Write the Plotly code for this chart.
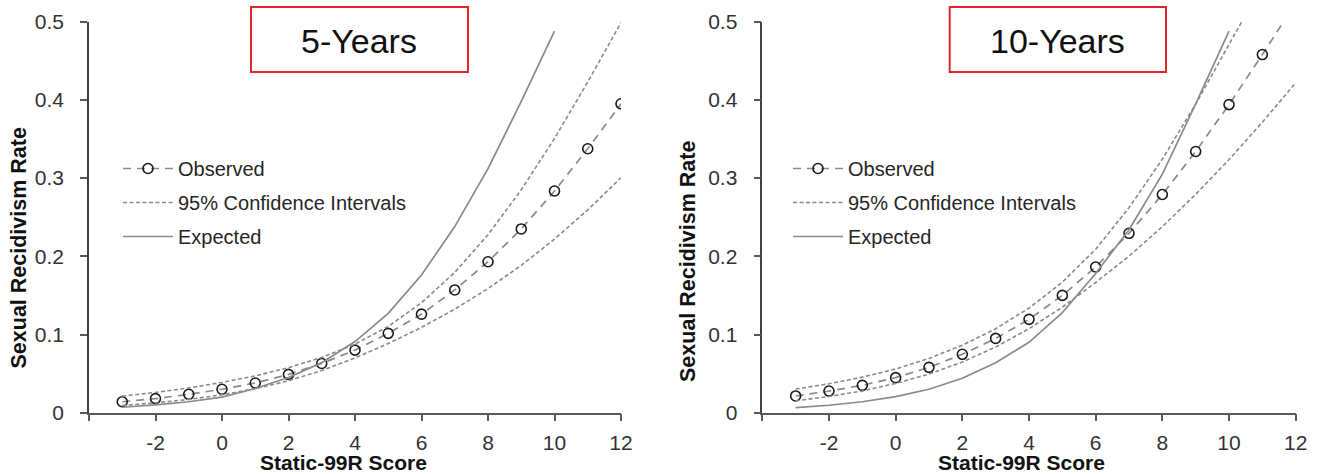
import plotly.graph_objects as go

# ---------------- data ----------------
scores = list(range(-3, 13))
expected_scores = list(range(-3, 11))
x_ticks = [-4, -2, 0, 2, 4, 6, 8, 10, 12]
x_tick_labels = ["", "-2", "0", "2", "4", "6", "8", "10", "12"]
y_ticks = [0, 0.1, 0.2, 0.3, 0.4, 0.5]
y_tick_labels = ["0", "0.1", "0.2", "0.3", "0.4", "0.5"]

panel_titles = ["5-Years", "10-Years"]
series_names = ["Observed", "95% Confidence Intervals", "Expected"]
x_title = "Static-99R Score"
y_title = "Sexual Recidivism Rate"

obs_5 = [0.014, 0.018, 0.0235, 0.030, 0.038, 0.049, 0.063, 0.080, 0.1015, 0.126,
         0.157, 0.193, 0.235, 0.2835, 0.3375, 0.395]
ci_upper_5 = [0.0212, 0.0259, 0.0317, 0.0387, 0.0471, 0.0576, 0.0707, 0.0877, 0.1103,
              0.1406, 0.1794, 0.2276, 0.2850, 0.3507, 0.4229, 0.4988]
ci_lower_5 = [0.0093, 0.0126, 0.0170, 0.0229, 0.0307, 0.0409, 0.0539, 0.0700, 0.0884,
              0.1091, 0.1324, 0.1587, 0.1885, 0.2220, 0.2594, 0.3005]
exp_5 = [0.007, 0.010, 0.014, 0.020, 0.031, 0.045, 0.064, 0.091, 0.127, 0.176,
         0.238, 0.312, 0.398, 0.488]

obs_10 = [0.0214, 0.0277, 0.035, 0.0448, 0.058, 0.0747, 0.095, 0.1194, 0.150, 0.1863,
          0.2294, 0.279, 0.334, 0.394, 0.458, 0.524]
ci_upper_10 = [0.0302, 0.0370, 0.0455, 0.0559, 0.0694, 0.0863, 0.1073, 0.1338, 0.1670,
               0.2090, 0.2621, 0.3243, 0.3946, 0.4708, 0.5483, 0.6236]
ci_lower_10 = [0.0152, 0.0207, 0.0278, 0.0375, 0.0494, 0.0648, 0.0840, 0.1074, 0.1350,
               0.1665, 0.2002, 0.2379, 0.2793, 0.3237, 0.3715, 0.4219]
exp_10 = [0.0065, 0.0095, 0.014, 0.0205, 0.030, 0.044, 0.064, 0.090, 0.128, 0.178,
          0.234, 0.305, 0.395, 0.488]

# ---------------- styling ----------------
W, H = 1318, 474
FONT = "Liberation Sans, Arial, sans-serif"
GRAY = "#8a8a8a"
AXIS = "#595959"


def px_x(p):
    return p / W


def px_y(p):
    return 1 - p / H


fig = go.Figure()

panels = [
    ("x", "y", "legend", obs_5, ci_upper_5, ci_lower_5, exp_5),
    ("x2", "y2", "legend2", obs_10, ci_upper_10, ci_lower_10, exp_10),
]

for xa, ya, lg, obs, up, lo, ex in panels:
    fig.add_trace(go.Scatter(
        x=scores, y=obs, name=series_names[0], mode="lines+markers",
        xaxis=xa, yaxis=ya, legend=lg, legendgroup="obs",
        line=dict(color=GRAY, width=1.7, dash="8px,6px"),
        marker=dict(symbol="circle-open", size=10, color="#1a1a1a",
                    line=dict(width=1.6, color="#1a1a1a")),
    ))
    fig.add_trace(go.Scatter(
        x=scores, y=up, name=series_names[1], mode="lines",
        xaxis=xa, yaxis=ya, legend=lg, legendgroup="ci",
        line=dict(color=GRAY, width=1.6, dash="4px,2.5px"),
    ))
    fig.add_trace(go.Scatter(
        x=scores, y=lo, name=series_names[1], mode="lines", showlegend=False,
        xaxis=xa, yaxis=ya, legend=lg, legendgroup="ci",
        line=dict(color=GRAY, width=1.6, dash="4px,2.5px"),
    ))
    fig.add_trace(go.Scatter(
        x=expected_scores, y=ex, name=series_names[2], mode="lines",
        xaxis=xa, yaxis=ya, legend=lg, legendgroup="exp",
        line=dict(color=GRAY, width=1.7),
    ))

xcommon = dict(
    range=[-4, 12], tickvals=x_ticks, ticktext=x_tick_labels,
    showgrid=False, zeroline=False, showline=True, linecolor=AXIS, linewidth=1.5,
    ticks="outside", ticklen=7, tickwidth=1.5, tickcolor=AXIS,
    tickfont=dict(family=FONT, size=21, color="#333333"),
    ticklabelstandoff=3, automargin=False, fixedrange=True,
)
ycommon = dict(
    range=[0, 0.5], tickvals=y_ticks, ticktext=y_tick_labels,
    showgrid=False, zeroline=False, showline=True, linecolor="#404040", linewidth=1.5,
    ticks="outside", ticklen=7, tickwidth=1.5, tickcolor=AXIS,
    tickfont=dict(family=FONT, size=21, color="#333333"),
    ticklabelstandoff=12, automargin=False, fixedrange=True,
)

y_dom = [px_y(412.7), px_y(21.7)]
fig.update_layout(
    width=W, height=H, margin=dict(l=0, r=0, t=0, b=0),
    paper_bgcolor="white", plot_bgcolor="white",
    xaxis=dict(domain=[px_x(89), px_x(621)], anchor="y", **xcommon),
    yaxis=dict(domain=y_dom, anchor="x", **ycommon),
    xaxis2=dict(domain=[px_x(762.3), px_x(1295.7)], anchor="y2", **xcommon),
    yaxis2=dict(domain=y_dom, anchor="x2", **ycommon),
)

legend_common = dict(
    xanchor="left", yanchor="top", bgcolor="rgba(0,0,0,0)", borderwidth=0,
    font=dict(family=FONT, size=20, color="#262626"),
    traceorder="grouped", tracegroupgap=5, itemwidth=50,
    itemclick=False, itemdoubleclick=False,
)
fig.update_layout(
    legend=dict(x=px_x(118), y=px_y(149), **legend_common),
    legend2=dict(x=px_x(788), y=px_y(149), **legend_common),
)

# title boxes
boxes = [(251, 468), (949.7, 1166)]
for (bx0, bx1), title in zip(boxes, panel_titles):
    fig.add_shape(type="rect", xref="paper", yref="paper",
                  x0=px_x(bx0), x1=px_x(bx1), y0=px_y(72), y1=px_y(7),
                  line=dict(color="#e3262b", width=2), fillcolor="white", layer="below")
    fig.add_annotation(xref="paper", yref="paper", x=px_x((bx0 + bx1) / 2), y=px_y(41),
                       text=title, showarrow=False, xanchor="center", yanchor="middle",
                       font=dict(family=FONT, size=34, color="#111111"))

# axis titles
for xc, yc in [(18, 248.5), (688, 262)]:
    fig.add_annotation(xref="paper", yref="paper", x=px_x(xc), y=px_y(yc),
                       text="<b>" + y_title + "</b>", textangle=-90, showarrow=False,
                       xanchor="center", yanchor="middle",
                       font=dict(family=FONT, size=21.5, color="#111111"))
for xc in [343, 1021]:
    fig.add_annotation(xref="paper", yref="paper", x=px_x(xc), y=px_y(462),
                       text="<b>" + x_title + "</b>", showarrow=False,
                       xanchor="center", yanchor="middle",
                       font=dict(family=FONT, size=21, color="#111111"))

fig.write_html("out.html", config={"displayModeBar": False},
               post_script="document.body.style.margin='0px';document.body.style.overflow='hidden';")
